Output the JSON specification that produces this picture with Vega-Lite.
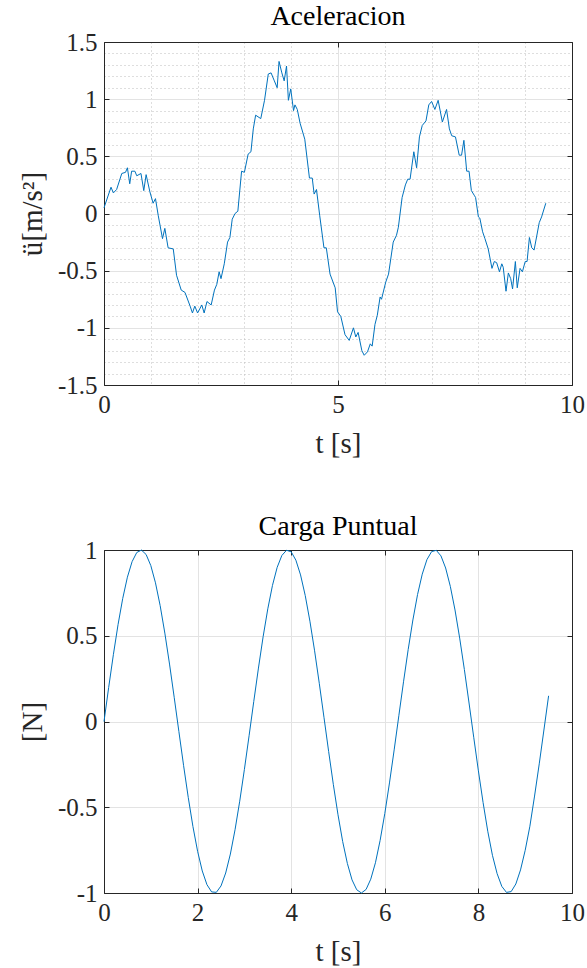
{
  "$schema": "https://vega.github.io/schema/vega-lite/v6.json",
  "background": "white",
  "padding": {"left": 18, "top": 3, "right": 0, "bottom": 0},
  "spacing": 55,
  "datasets": {
    "acc": [
      {"t":0,"a":0.05},{"t":0.15,"a":0.23},{"t":0.2,"a":0.18},{"t":0.27,"a":0.21},{"t":0.38,"a":0.35},{"t":0.46,"a":0.36},{"t":0.5,"a":0.4},{"t":0.55,"a":0.26},{"t":0.59,"a":0.37},{"t":0.66,"a":0.37},{"t":0.7,"a":0.33},{"t":0.79,"a":0.35},{"t":0.85,"a":0.2},{"t":0.9,"a":0.34},{"t":0.98,"a":0.19},{"t":1.05,"a":0.09},{"t":1.1,"a":0.13},{"t":1.16,"a":-0.02},{"t":1.25,"a":-0.22},{"t":1.3,"a":-0.13},{"t":1.37,"a":-0.3},{"t":1.48,"a":-0.31},{"t":1.55,"a":-0.54},{"t":1.65,"a":-0.67},{"t":1.73,"a":-0.69},{"t":1.84,"a":-0.81},{"t":1.89,"a":-0.87},{"t":1.94,"a":-0.81},{"t":2.0,"a":-0.87},{"t":2.09,"a":-0.8},{"t":2.14,"a":-0.87},{"t":2.2,"a":-0.77},{"t":2.29,"a":-0.8},{"t":2.36,"a":-0.67},{"t":2.41,"a":-0.62},{"t":2.46,"a":-0.51},{"t":2.5,"a":-0.57},{"t":2.57,"a":-0.44},{"t":2.64,"a":-0.25},{"t":2.69,"a":-0.21},{"t":2.74,"a":-0.05},{"t":2.8,"a":0.0},{"t":2.86,"a":0.02},{"t":2.94,"a":0.37},{"t":3.0,"a":0.36},{"t":3.08,"a":0.52},{"t":3.14,"a":0.54},{"t":3.19,"a":0.74},{"t":3.24,"a":0.86},{"t":3.35,"a":0.83},{"t":3.43,"a":0.99},{"t":3.51,"a":1.22},{"t":3.57,"a":1.23},{"t":3.64,"a":1.16},{"t":3.7,"a":1.1},{"t":3.74,"a":1.33},{"t":3.8,"a":1.23},{"t":3.85,"a":1.16},{"t":3.9,"a":1.29},{"t":3.94,"a":0.99},{"t":3.99,"a":1.09},{"t":4.05,"a":0.9},{"t":4.08,"a":0.95},{"t":4.13,"a":0.91},{"t":4.19,"a":0.79},{"t":4.29,"a":0.65},{"t":4.39,"a":0.31},{"t":4.45,"a":0.31},{"t":4.49,"a":0.17},{"t":4.54,"a":0.21},{"t":4.61,"a":-0.02},{"t":4.7,"a":-0.3},{"t":4.75,"a":-0.3},{"t":4.83,"a":-0.53},{"t":4.94,"a":-0.65},{"t":4.99,"a":-0.86},{"t":5.06,"a":-0.9},{"t":5.15,"a":-1.06},{"t":5.24,"a":-1.11},{"t":5.33,"a":-1.0},{"t":5.38,"a":-1.08},{"t":5.43,"a":-1.04},{"t":5.51,"a":-1.2},{"t":5.56,"a":-1.24},{"t":5.63,"a":-1.21},{"t":5.69,"a":-1.14},{"t":5.73,"a":-1.16},{"t":5.79,"a":-0.97},{"t":5.84,"a":-0.89},{"t":5.9,"a":-0.73},{"t":5.93,"a":-0.75},{"t":6.02,"a":-0.6},{"t":6.08,"a":-0.53},{"t":6.18,"a":-0.25},{"t":6.25,"a":-0.19},{"t":6.29,"a":-0.12},{"t":6.37,"a":0.14},{"t":6.44,"a":0.25},{"t":6.49,"a":0.3},{"t":6.54,"a":0.3},{"t":6.62,"a":0.54},{"t":6.68,"a":0.4},{"t":6.74,"a":0.67},{"t":6.8,"a":0.77},{"t":6.88,"a":0.81},{"t":6.94,"a":0.95},{"t":7.0,"a":0.98},{"t":7.07,"a":0.91},{"t":7.14,"a":0.99},{"t":7.23,"a":0.8},{"t":7.32,"a":0.91},{"t":7.38,"a":0.74},{"t":7.43,"a":0.68},{"t":7.51,"a":0.67},{"t":7.59,"a":0.51},{"t":7.64,"a":0.51},{"t":7.69,"a":0.64},{"t":7.75,"a":0.37},{"t":7.8,"a":0.37},{"t":7.85,"a":0.2},{"t":7.91,"a":0.16},{"t":7.94,"a":0.14},{"t":8.0,"a":-0.03},{"t":8.03,"a":-0.04},{"t":8.09,"a":-0.16},{"t":8.14,"a":-0.22},{"t":8.21,"a":-0.31},{"t":8.29,"a":-0.48},{"t":8.34,"a":-0.42},{"t":8.39,"a":-0.43},{"t":8.45,"a":-0.51},{"t":8.5,"a":-0.44},{"t":8.53,"a":-0.47},{"t":8.59,"a":-0.68},{"t":8.64,"a":-0.52},{"t":8.69,"a":-0.57},{"t":8.73,"a":-0.66},{"t":8.79,"a":-0.42},{"t":8.83,"a":-0.65},{"t":8.89,"a":-0.48},{"t":8.94,"a":-0.51},{"t":9.0,"a":-0.42},{"t":9.04,"a":-0.42},{"t":9.09,"a":-0.21},{"t":9.14,"a":-0.3},{"t":9.19,"a":-0.32},{"t":9.3,"a":-0.08},{"t":9.35,"a":-0.03},{"t":9.44,"a":0.09}
    ],
    "carga": [
      {"t":0,"f":0},{"t":0.1,"f":0.1987},{"t":0.2,"f":0.3894},{"t":0.3,"f":0.5646},{"t":0.4,"f":0.7174},{"t":0.5,"f":0.8415},{"t":0.6,"f":0.932},{"t":0.7,"f":0.9854},{"t":0.8,"f":0.9996},{"t":0.9,"f":0.9738},{"t":1.0,"f":0.9093},{"t":1.1,"f":0.8085},{"t":1.2,"f":0.6755},{"t":1.3,"f":0.5155},{"t":1.4,"f":0.335},{"t":1.5,"f":0.1411},{"t":1.6,"f":-0.0584},{"t":1.7,"f":-0.2555},{"t":1.8,"f":-0.4425},{"t":1.9,"f":-0.6119},{"t":2.0,"f":-0.7568},{"t":2.1,"f":-0.8716},{"t":2.2,"f":-0.9516},{"t":2.3,"f":-0.9937},{"t":2.4,"f":-0.9962},{"t":2.5,"f":-0.9589},{"t":2.6,"f":-0.8835},{"t":2.7,"f":-0.7728},{"t":2.8,"f":-0.6313},{"t":2.9,"f":-0.4646},{"t":3.0,"f":-0.2794},{"t":3.1,"f":-0.0831},{"t":3.2,"f":0.1165},{"t":3.3,"f":0.3115},{"t":3.4,"f":0.4941},{"t":3.5,"f":0.657},{"t":3.6,"f":0.7937},{"t":3.7,"f":0.8987},{"t":3.8,"f":0.9679},{"t":3.9,"f":0.9985},{"t":4.0,"f":0.9894},{"t":4.1,"f":0.9407},{"t":4.2,"f":0.8546},{"t":4.3,"f":0.7344},{"t":4.4,"f":0.5849},{"t":4.5,"f":0.4121},{"t":4.6,"f":0.2229},{"t":4.7,"f":0.0248},{"t":4.8,"f":-0.1743},{"t":4.9,"f":-0.3665},{"t":5.0,"f":-0.544},{"t":5.1,"f":-0.7},{"t":5.2,"f":-0.8278},{"t":5.3,"f":-0.9236},{"t":5.4,"f":-0.981},{"t":5.5,"f":-1.0},{"t":5.6,"f":-0.9792},{"t":5.7,"f":-0.9193},{"t":5.8,"f":-0.8236},{"t":5.9,"f":-0.6935},{"t":6.0,"f":-0.5366},{"t":6.1,"f":-0.3582},{"t":6.2,"f":-0.1656},{"t":6.3,"f":0.0336},{"t":6.4,"f":0.2315},{"t":6.5,"f":0.4202},{"t":6.6,"f":0.592},{"t":6.7,"f":0.7403},{"t":6.8,"f":0.8591},{"t":6.9,"f":0.9437},{"t":7.0,"f":0.9906},{"t":7.1,"f":0.9981},{"t":7.2,"f":0.9657},{"t":7.3,"f":0.895},{"t":7.4,"f":0.788},{"t":7.5,"f":0.6503},{"t":7.6,"f":0.4863},{"t":7.7,"f":0.303},{"t":7.8,"f":0.1078},{"t":7.9,"f":-0.0919},{"t":8.0,"f":-0.2879},{"t":8.1,"f":-0.4725},{"t":8.2,"f":-0.6398},{"t":8.3,"f":-0.7803},{"t":8.4,"f":-0.8872},{"t":8.5,"f":-0.9614},{"t":8.6,"f":-0.9965},{"t":8.7,"f":-0.9918},{"t":8.8,"f":-0.9475},{"t":8.9,"f":-0.8654},{"t":9.0,"f":-0.751},{"t":9.1,"f":-0.6106},{"t":9.2,"f":-0.4347},{"t":9.3,"f":-0.247},{"t":9.4,"f":-0.0496},{"t":9.5,"f":0.1498}
    ]
  },
  "vconcat": [
    {
      "title": {"text": "Aceleracion", "offset": -1},
      "width": 468,
      "height": 343,
      "data": {"name": "acc"},
      "resolve": {"axis": {"x": "independent", "y": "independent"}},
      "layer": [
        {
          "mark": {"type": "line", "opacity": 0},
          "encoding": {
            "x": {"field": "t", "type": "quantitative", "scale": {"domain": [0, 10], "nice": false, "zero": false},
                  "axis": {"orient": "bottom", "values": [1,2,3,4,6,7,8,9], "grid": true, "gridDash": [1,3], "gridColor": "#bdbdbd", "ticks": false, "labels": false, "domain": false, "title": null}},
            "y": {"field": "a", "type": "quantitative", "scale": {"domain": [-1.5, 1.5], "nice": false, "zero": false},
                  "axis": {"orient": "left", "values": [-1.4,-1.3,-1.2,-1.1,-0.9,-0.8,-0.7,-0.6,-0.4,-0.3,-0.2,-0.1,0.1,0.2,0.3,0.4,0.6,0.7,0.8,0.9,1.1,1.2,1.3,1.4], "grid": true, "gridDash": [1,3], "gridColor": "#bdbdbd", "ticks": false, "labels": false, "domain": false, "title": null}}
          }
        },
        {
          "mark": {"type": "line", "opacity": 0},
          "encoding": {
            "x": {"field": "t", "type": "quantitative",
                  "axis": {"orient": "top", "values": [0,5,10], "grid": false, "labels": false, "title": null}},
            "y": {"field": "a", "type": "quantitative",
                  "axis": {"orient": "right", "values": [-1.5,-1,-0.5,0,0.5,1,1.5], "grid": false, "labels": false, "title": null}}
          }
        },
        {
          "mark": {"type": "line", "color": "#0072BD", "strokeWidth": 1},
          "encoding": {
            "x": {"field": "t", "type": "quantitative",
                  "axis": {"orient": "bottom", "values": [0,5,10], "grid": true, "title": "t [s]"}},
            "y": {"field": "a", "type": "quantitative",
                  "axis": {"orient": "left", "values": [-1.5,-1,-0.5,0,0.5,1,1.5], "grid": true, "title": "ü[m/s²]"}}
          }
        }
      ]
    },
    {
      "title": {"text": "Carga Puntual", "offset": -3},
      "width": 468,
      "height": 343,
      "data": {"name": "carga"},
      "resolve": {"axis": {"x": "independent", "y": "independent"}},
      "layer": [
        {
          "mark": {"type": "line", "opacity": 0},
          "encoding": {
            "x": {"field": "t", "type": "quantitative", "scale": {"domain": [0, 10], "nice": false, "zero": false},
                  "axis": {"orient": "top", "values": [0,2,4,6,8,10], "grid": false, "labels": false, "title": null}},
            "y": {"field": "f", "type": "quantitative", "scale": {"domain": [-1, 1], "nice": false, "zero": false},
                  "axis": {"orient": "right", "values": [-1,-0.5,0,0.5,1], "grid": false, "labels": false, "title": null}}
          }
        },
        {
          "mark": {"type": "line", "color": "#0072BD", "strokeWidth": 1},
          "encoding": {
            "x": {"field": "t", "type": "quantitative",
                  "axis": {"orient": "bottom", "values": [0,2,4,6,8,10], "grid": true, "title": "t [s]"}},
            "y": {"field": "f", "type": "quantitative",
                  "axis": {"orient": "left", "values": [-1,-0.5,0,0.5,1], "grid": true, "title": "[N]"}}
          }
        }
      ]
    }
  ],
  "config": {
    "view": {"stroke": null},
    "font": "Liberation Serif",
    "title": {"font": "Liberation Serif", "fontSize": 28, "fontWeight": "normal", "color": "#000000"},
    "axis": {
      "labelFont": "Liberation Serif",
      "labelFontSize": 25,
      "labelColor": "#262626",
      "labelExpr": "replace(format(datum.value, '~g'), '−', '-')",
      "labelPadding": 12,
      "labelFlush": false,
      "labelOverlap": false,
      "titleFont": "Liberation Serif",
      "titleFontSize": 29,
      "titleFontWeight": "normal",
      "titleColor": "#262626",
      "domainColor": "#262626",
      "domainWidth": 1,
      "tickColor": "#262626",
      "tickSize": -5,
      "tickWidth": 1,
      "gridColor": "#e3e3e3",
      "gridWidth": 1
    },
    "axisX": {"titlePadding": 12},
    "axisY": {"titlePadding": 10}
  }
}
